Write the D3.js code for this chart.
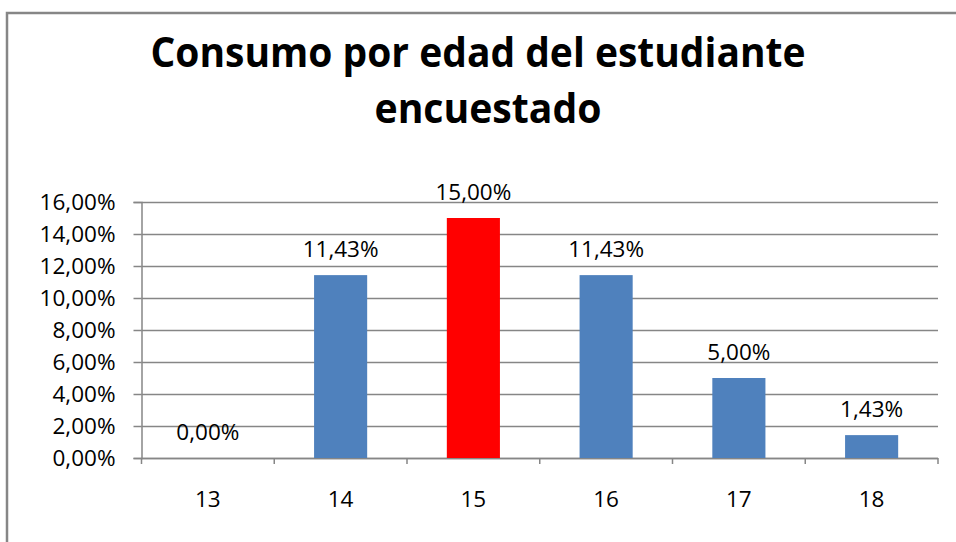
<!DOCTYPE html>
<html>
<head>
<meta charset="utf-8">
<script src="https://cdn.jsdelivr.net/npm/d3@7"></script>
<style>
  html, body { margin: 0; padding: 0; background: #fff; }
  svg { display: block; }
  text { font-family: "Open Sans", "Liberation Sans", sans-serif; fill: #000; }
</style>
</head>
<body>
<svg id="chart" width="956" height="542"></svg>
<script>
// Share of consumption by age of the surveyed student
const categories = ["13", "14", "15", "16", "17", "18"];
const values = [0.00, 11.43, 15.00, 11.43, 5.00, 1.43];
const highlight = ["15"];
const yTicks = [0, 2, 4, 6, 8, 10, 12, 14, 16];
const titleLines = ["Consumo por edad del estudiante", "encuestado"];

const W = 956, H = 542;
const svg = d3.select("#chart");

const gridColor = "#868686";
const blue = "#4F81BD";
const red = "#FF0000";
const labelSize = "22.5px";

// outer chart frame (extends past the visible area on the right and bottom)
svg.append("rect")
  .attr("x", 7).attr("y", 13)
  .attr("width", W + 20).attr("height", H + 20)
  .attr("fill", "none")
  .attr("stroke", gridColor)
  .attr("stroke-width", 2.5);

const plot = { left: 141.5, right: 938, top: 202, bottom: 458 };

const x = d3.scaleBand()
  .domain(categories)
  .range([plot.left, plot.right])
  .paddingInner(0.6)
  .paddingOuter(0.3);

const xTicks = d3.scaleBand().domain(categories).range([plot.left, plot.right]);

const y = d3.scaleLinear().domain([0, 16]).range([plot.bottom, plot.top]);

const fmt = v => d3.format(".2f")(v).replace(".", ",") + "%";

// horizontal gridlines
svg.append("g")
  .selectAll("line")
  .data(yTicks)
  .join("line")
  .attr("x1", plot.left)
  .attr("x2", plot.right)
  .attr("y1", d => Math.round(y(d)) + 0.5)
  .attr("y2", d => Math.round(y(d)) + 0.5)
  .attr("stroke", gridColor)
  .attr("stroke-width", 1.5);

// y axis
const yAxis = svg.append("g")
  .attr("transform", `translate(${plot.left},0)`)
  .call(d3.axisLeft(y).tickValues(yTicks).tickSize(8).tickPadding(18).tickFormat(fmt));
yAxis.select(".domain").attr("stroke", gridColor).attr("stroke-width", 1.5);
yAxis.selectAll(".tick line").attr("stroke", gridColor).attr("stroke-width", 1.5);
yAxis.selectAll(".tick text")
  .style("font-size", labelSize)
  .style("font-family", "'Open Sans', sans-serif")
  .attr("fill", "#000");

// x axis: ticks on category boundaries
const xAxisG = svg.append("g")
  .attr("transform", `translate(0,${plot.bottom})`);
xAxisG.append("line")
  .attr("x1", plot.left).attr("x2", plot.right)
  .attr("y1", 0.5).attr("y2", 0.5)
  .attr("stroke", gridColor).attr("stroke-width", 1.5);
const boundaries = categories.map(c => xTicks(c)).concat([plot.right]);
xAxisG.selectAll("line.tk")
  .data(boundaries)
  .join("line")
  .attr("class", "tk")
  .attr("x1", d => d).attr("x2", d => d)
  .attr("y1", 0).attr("y2", 6)
  .attr("stroke", gridColor).attr("stroke-width", 1.5);
xAxisG.selectAll("text")
  .data(categories)
  .join("text")
  .attr("x", d => xTicks(d) + xTicks.bandwidth() / 2)
  .attr("y", 49)
  .attr("text-anchor", "middle")
  .style("font-size", labelSize)
  .text(d => d);

// bars
const data = categories.map((c, i) => ({ cat: c, value: values[i] }));
svg.append("g")
  .selectAll("rect")
  .data(data)
  .join("rect")
  .attr("x", d => x(d.cat))
  .attr("width", x.bandwidth())
  .attr("y", d => y(d.value))
  .attr("height", d => y(0) - y(d.value))
  .attr("fill", d => highlight.includes(d.cat) ? red : blue);

// value labels
svg.append("g")
  .selectAll("text")
  .data(data)
  .join("text")
  .attr("x", d => x(d.cat) + x.bandwidth() / 2)
  .attr("y", d => y(d.value) - 18)
  .attr("text-anchor", "middle")
  .style("font-size", labelSize)
  .text(d => fmt(d.value));

// two-line title
const title = svg.append("g");
const titleX = [478, 488];
const titleY = [67, 123];
const titleW = [655, 227];
titleLines.forEach((t, i) => {
  title.append("text")
    .attr("x", titleX[i])
    .attr("y", titleY[i])
    .attr("text-anchor", "middle")
    .attr("textLength", titleW[i])
    .attr("lengthAdjust", "spacingAndGlyphs")
    .style("font-size", "42px")
    .style("font-weight", "bold")
    .text(t);
});
</script>
</body>
</html>
